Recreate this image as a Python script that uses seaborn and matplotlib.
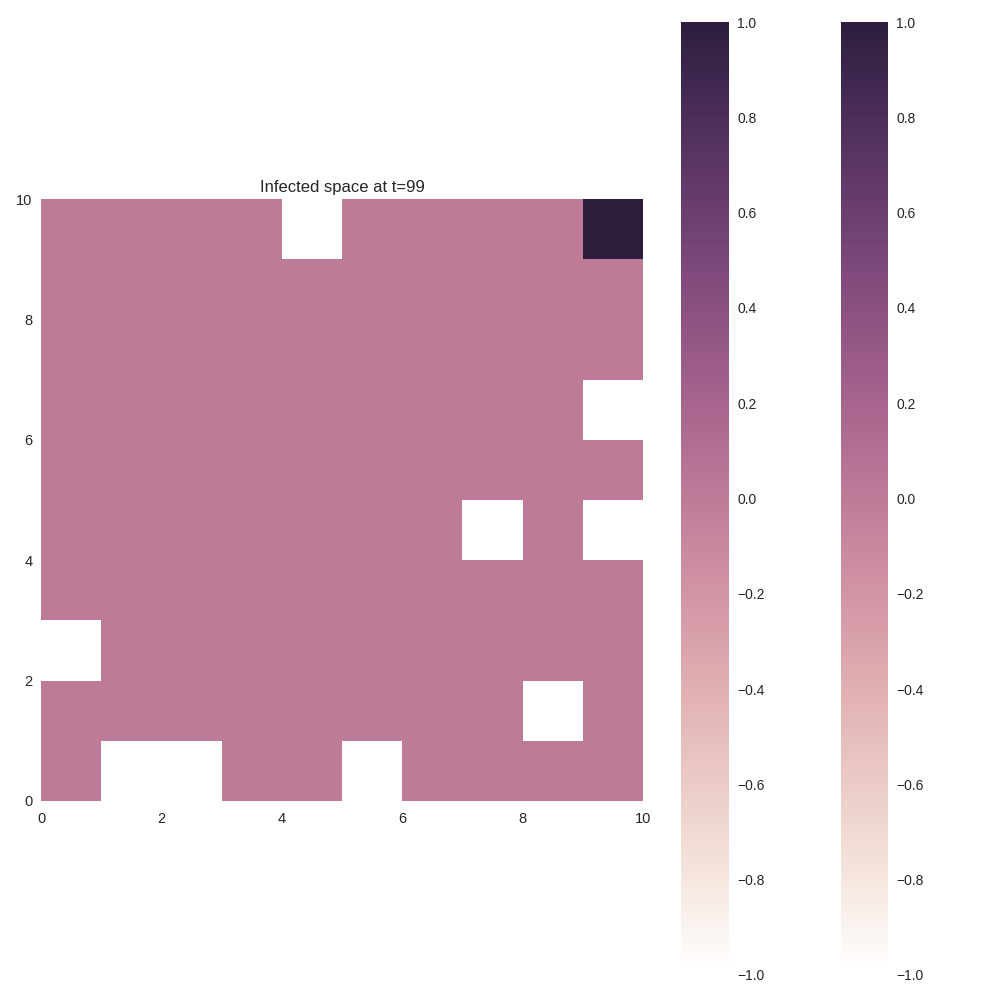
import numpy as np
import matplotlib
matplotlib.use('Agg')
import matplotlib.pyplot as plt
import seaborn as sns

# infection state per cell: -1 empty, 0 susceptible, 1 infected
# rows listed from y=0 (bottom) to y=9 (top)
row_0 = [0, -1, -1, 0, 0, -1, 0, 0, 0, 0]
row_1 = [0, 0, 0, 0, 0, 0, 0, 0, -1, 0]
row_2 = [-1, 0, 0, 0, 0, 0, 0, 0, 0, 0]
row_3 = [0, 0, 0, 0, 0, 0, 0, 0, 0, 0]
row_4 = [0, 0, 0, 0, 0, 0, 0, -1, 0, -1]
row_5 = [0, 0, 0, 0, 0, 0, 0, 0, 0, 0]
row_6 = [0, 0, 0, 0, 0, 0, 0, 0, 0, -1]
row_7 = [0, 0, 0, 0, 0, 0, 0, 0, 0, 0]
row_8 = [0, 0, 0, 0, 0, 0, 0, 0, 0, 0]
row_9 = [0, 0, 0, 0, -1, 0, 0, 0, 0, 1]
t_final = 99

grid = np.array([row_0, row_1, row_2, row_3, row_4,
                 row_5, row_6, row_7, row_8, row_9], dtype=float)

sns.set_style("white")
plt.rcParams['font.family'] = ['Liberation Sans', 'DejaVu Sans']
plt.rcParams['font.size'] = 10

cmap = sns.cubehelix_palette(light=1, as_cmap=True)

fig = plt.figure(figsize=(10, 10), dpi=100)
ax = fig.add_axes([0.041, 0.199, 0.602, 0.602])
cax1 = fig.add_axes([0.681, 0.025, 0.048, 0.953])
cax2 = fig.add_axes([0.841, 0.025, 0.047, 0.953])

mesh = ax.pcolormesh(grid, cmap=cmap, vmin=-1, vmax=1)
ax.set_xlim(0, 10)
ax.set_ylim(0, 10)
ax.set_xticks(np.arange(0, 11, 2))
ax.set_yticks(np.arange(0, 11, 2))
ax.tick_params(axis='y', length=0, pad=6, labelsize=10.5)
ax.tick_params(axis='x', length=0, pad=8, labelsize=10.5)
ax.set_title(f"Infected space at t={t_final}", fontsize=12, pad=5)
for s in ax.spines.values():
    s.set_visible(False)

# plotting function was called twice, so two colorbars ended up on the figure
for cax in (cax1, cax2):
    cb = fig.colorbar(mesh, cax=cax, ticks=np.linspace(-1, 1, 11))
    cb.outline.set_visible(False)
    cb.ax.tick_params(length=0, pad=6, labelsize=10)

plt.savefig('out.png', dpi=100)
plt.close()
